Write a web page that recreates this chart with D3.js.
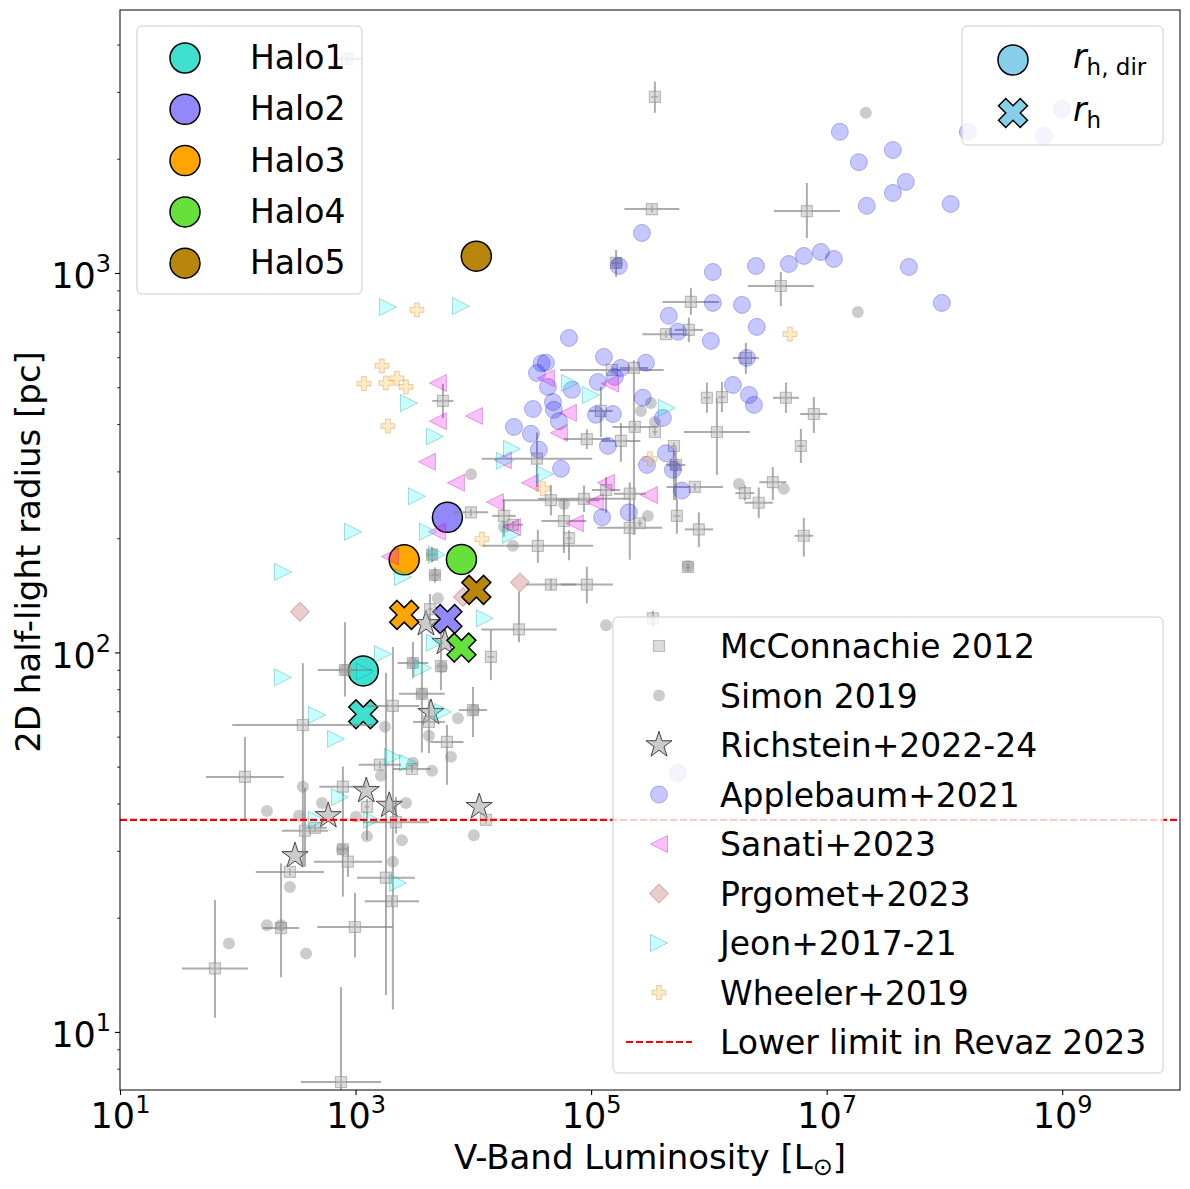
<!DOCTYPE html>
<html>
<head>
<meta charset="utf-8">
<script src="https://cdn.jsdelivr.net/npm/d3@7"></script>
<style>
  body { margin: 0; background: #fff; }
  svg text { font-family: "DejaVu Sans", sans-serif; fill: #000; }
</style>
</head>
<body>
<svg id="chart"></svg>
<script>
// DATA
// [L_V (Lsun), r_h (pc), L err (dex), r_h err low (dex), r_h err high (dex)]
const mcConnachie = [
    [3.48e5, 2912, 0.03, 0.042, 0.04], [3.28e5, 1474, 0.233, 0.01, 0.01], [6.79e6, 1456, 0.28, 0.071, 0.074],
    [1.63e5, 1063, 0.04, 0.037, 0.034], [4.08e6, 924, 0.28, 0.053, 0.037], [7.03e5, 839, 0.24, 0.034, 0.037],
    [6.76e5, 708, 0.12, 0.032, 0.032], [4.32e5, 690, 0.2, 0.01, 0.01], [1.50e5, 555, 0.44, 0.01, 0.01],
    [2.31e5, 562, 0.12, 0.44, 0.02], [2.06e6, 597, 0.11, 0.042, 0.04], [9.62e5, 469, 0.03, 0.04, 0.04],
    [1.29e6, 471, 0.03, 0.04, 0.04], [4.51e6, 469, 0.11, 0.04, 0.04], [7.78e6, 425, 0.115, 0.05, 0.045],
    [1.17e6, 381, 0.28, 0.113, 0.09], [6.04e6, 350, 0.03, 0.045, 0.045], [5520, 460, 0.09, 0.045, 0.045],
    [1.21e5, 433, 0.1, 0.069, 0.063], [2.35e5, 393, 0.19, 0.01, 0.01], [1.79e5, 361, 0.165, 0.055, 0.047],
    [9.2e4, 365, 0.195, 0.026, 0.026], [3.47e4, 324, 0.47, 0.074, 0.069], [3.48e5, 381, 0.02, 0.01, 0.01],
    [5.05e5, 350, 0.02, 0.142, 0.01], [5.25e5, 312, 0.08, 0.092, 0.047], [7.6e5, 273, 0.24, 0.01, 0.01],
    [2.02e6, 263, 0.08, 0.02, 0.02], [3.49e6, 281, 0.115, 0.047, 0.04], [2.65e6, 248, 0.12, 0.04, 0.04],
    [4.56e4, 252, 0.41, 0.04, 0.04], [8.7e4, 254, 0.39, 0.035, 0.035], [1.34e5, 268, 0.12, 0.06, 0.034],
    [2.13e5, 262, 0.135, 0.174, 0.03], [5.88e4, 222, 0.19, 0.084, 0.055], [6.49e4, 200, 0.02, 0.058, 0.021],
    [3.53e4, 191, 0.47, 0.045, 0.042], [9550, 234, 0.145, 0.01, 0.01], [1.82e4, 229, 0.1, 0.055, 0.042],
    [2.17e4, 217, 0.085, 0.01, 0.01], [2.13e5, 213, 0.275, 0.01, 0.01], [2.59e5, 219, 0.02, 0.01, 0.01],
    [8.22e5, 211, 0.12, 0.047, 0.045], [6.4e6, 203, 0.08, 0.055, 0.047], [5.35e5, 229, 0.03, 0.047, 0.045],
    [6.64e5, 168, 0.02, 0.01, 0.01], [4.56e4, 151, 0.21, 0.015, 0.015], [9.2e4, 151, 0.22, 0.05, 0.047],
    [2.44e4, 115, 0.32, 0.034, 0.1], [3.35e5, 123, 0.03, 0.02, 0.02], [1.41e4, 97.3, 0.03, 0.061, 0.071],
    [9930, 70.5, 0.12, 0.071, 0.061], [4285, 130, 0.02, 0.04, 0.04], [4460, 181, 0.04, 0.02, 0.02],
    [4720, 160, 0.03, 0.02, 0.02], [5310, 92, 0.03, 0.063, 0.087], [3070, 93.8, 0.13, 0.04, 0.055],
    [3660, 77.8, 0.195, 0.155, 0.163], [2075, 72.3, 0.225, 0.8, 0.155], [357, 64.4, 0.6, 0.374, 0.163],
    [115, 47, 0.33, 0.113, 0.105], [781, 44.3, 0.2, 0.29, 0.053], [372, 33.9, 0.195, 0.095, 0.113],
    [452, 34.5, 0.1, 0.01, 0.01], [781, 30.3, 0.04, 0.01, 0.01], [861, 28.1, 0.29, 0.04, 0.04],
    [277, 26.4, 0.29, 0.01, 0.01], [1812, 25.5, 0.245, 0.31, 0.54], [2037, 22.1, 0.23, 0.013, 0.013],
    [988, 18.9, 0.32, 0.08, 0.09], [233, 18.8, 0.155, 0.13, 0.17], [64, 14.7, 0.28, 0.13, 0.18],
    [752, 7.38, 0.34, 0.1, 0.25], [1611, 50.6, 0.18, 0.01, 0.01], [3013, 49.3, 0.16, 0.01, 0.01],
    [5970, 58.1, 0.14, 0.113, 0.045], [4200, 65.6, 0.135, 0.082, 0.058], [1.28e4, 36.2, 0.02, 0.01, 0.01],
    [2202, 35.7, 0.28, 0.03, 0.066], [1250, 39.2, 0.02, 0.087, 0.02], [813, 89.9, 0.23, 0.07, 0.126],
    [845, 3667, 0.12, 0.01, 0.01]
];

const simon = [
    [2.15e7, 2642], [1.84e7, 789], [3.22e5, 454], [2.65e5, 433], [3.48e5, 405], [1.80e6, 278], [4.33e6, 270],
    [3.03e5, 229], [6.64e5, 169], [1.34e5, 118], [1.66e5, 1063], [9550, 295], [5.88e4, 246], [2.17e4, 191],
    [1.82e4, 214], [5.14e5, 312], [1.01e4, 70.5], [5000, 139], [4460, 181], [4720, 160], [813, 89.9],
    [1778, 63.7], [3070, 93.8], [3660, 77.8], [5410, 91.6], [7400, 67.1], [4200, 60.3], [6460, 53.1],
    [4460, 48.8], [3070, 51.2], [1644, 47.3], [357, 44.3], [519, 40.1], [177, 38.2], [331, 37.1],
    [1007, 36.9], [2680, 40.1], [1250, 32.8], [2478, 32.0], [1.01e4, 33.0], [767, 30.3], [2075, 28.1],
    [277, 24.1], [177, 19.1], [233, 19.1], [84.1, 17.1], [380, 16.1]
];

const richstein = [
    [3963, 118.9], [5741, 106.1], [4365, 69.4], [1233, 43.2], [1932, 39.5], [586, 37.1], [11220, 39.2], [306, 29.1]
];

const applebaum = [
    [1.294e7, 2355], [1.876e7, 1959], [3.65e7, 2109], [4.70e7, 1738], [3.65e7, 1625], [2.19e7, 1503],
    [1.13e8, 1520], [2.70e5, 1275], [1.72e5, 1043], [1.08e6, 1006], [2.51e6, 1043], [4.78e6, 1056],
    [6.40e6, 1109], [8.93e6, 1136], [1.15e7, 1089], [4.99e7, 1037], [1.08e6, 834], [1.91e6, 824],
    [4.57e5, 771], [5.45e5, 700], [1.04e6, 662], [2.55e6, 721], [9.5e7, 834], [6.49e4, 674],
    [1.285e5, 601], [1.79e5, 562], [2.92e5, 580], [2.10e6, 597], [1.60e6, 507], [2.19e6, 477],
    [2.41e6, 449], [4.13e4, 580], [3.8e4, 578], [3.47e4, 545], [4.30e4, 501], [1.14e5, 516], [1.59e5, 532],
    [2.75e5, 469], [6.87e4, 492], [4.74e4, 457], [3.21e4, 438], [4.83e4, 436], [1.10e5, 423],
    [1.53e5, 425], [4.07e5, 415], [2.21e4, 393], [3.08e4, 377], [3.60e4, 342], [5.33e4, 407],
    [1.39e5, 350], [5.55e4, 305], [4.32e5, 335], [2.98e5, 312], [4.94e5, 303], [5.90e5, 267],
    [1.24e5, 227], [2.09e5, 234], [1.58e8, 2355], [6.98e8, 2296], [9.93e8, 2704], [5.45e5, 48.1]
];

const sanati = [
    [5000, 513], [5000, 407], [10120, 420], [4036, 318], [7113, 280], [15240, 249], [41300, 528],
    [63530, 428], [53300, 379], [17830, 321], [30200, 280], [144600, 511], [133600, 280], [107700, 249],
    [72800, 219], [309600, 260], [4909, 208], [21280, 214], [1959, 179]
];

const prgomet = [[337, 128], [24890, 153], [8170, 140]];

const jeon = [
    [1884, 813], [7850, 818], [2838, 454], [4721, 371], [21280, 344], [18530, 320], [3319, 258],
    [951, 208], [4121, 208], [242, 163], [2523, 158], [4909, 181], [12530, 123], [20840, 204],
    [1710, 99], [242, 86], [1202, 89], [470, 68.4], [683, 59.2], [3733, 91], [4721, 106], [2075, 53.1],
    [2786, 51.2], [738, 41.6], [470, 36.2], [1377, 36.2], [2291, 24.7], [5521, 69.7], [66070, 513],
    [99540, 477], [40550, 295], [439500, 441]
];

const wheeler = [
    [3319, 799], [1675, 569], [1178, 511], [1812, 513], [2244, 528], [2679, 501], [1884, 395],
    [11830, 199], [39000, 270], [315500, 324], [4875000, 690]
];

const haloNames = ['Halo1', 'Halo2', 'Halo3', 'Halo4', 'Halo5'];
const haloLum = [1162, 6026, 2588, 7925, 10600];
const haloRhDir = [89.4, 227, 175.4, 175.8, 1107];
const haloRh = [68.7, 122.5, 125.6, 103, 146.2];
const haloColors = ['#40e0d0', '#9388f9', '#ffa500', '#66e03a', '#b8860b'];

const revazLimit = 36.2;

const xTicks = [1e1, 1e3, 1e5, 1e7, 1e9];
const xTickExp = ['1', '3', '5', '7', '9'];
const yTicks = [1e1, 1e2, 1e3];
const yTickExp = ['1', '2', '3'];
const yMinorTicks = [8, 9, 20, 30, 40, 50, 60, 70, 80, 90, 200, 300, 400, 500, 600, 700, 800, 900, 2000, 3000, 4000];

const catalogLabels = ['McConnachie 2012', 'Simon 2019', 'Richstein+2022-24', 'Applebaum+2021',
    'Sanati+2023', 'Prgomet+2023', 'Jeon+2017-21', 'Wheeler+2019', 'Lower limit in Revaz 2023'];

// SCALES
const x = d3.scaleLog().domain([10, 1e10]).range([120, 1180]);
const y = d3.scaleLog().domain([7.03, 4932]).range([1090, 10]);

// SHAPES
const circlePath = r => d3.symbol().type(d3.symbolCircle).size(Math.PI * r * r)();
const squarePath = s => d3.symbol().type(d3.symbolSquare).size(s * s)();
const plusPath = w => d3.symbol().type(d3.symbolCross).size(5 * (w / 3) * (w / 3))();
const starPath = d3.symbol().type(d3.symbolStar).size(211)();
const triRight = s => `M${s / 2},0L${-s / 2},${s / 2}L${-s / 2},${-s / 2}Z`;
const triLeft = s => `M${-s / 2},0L${s / 2},${-s / 2}L${s / 2},${s / 2}Z`;

const styles = {
    mc: { d: squarePath(11), fill: '#bbbbbb', fo: 0.5, stroke: '#888888', so: 0.5, sw: 1.2 },
    simon: { d: circlePath(6), fill: '#808080', fo: 0.4, stroke: 'none', so: 0, sw: 0 },
    richstein: { d: starPath, fill: '#c8c8c8', fo: 0.95, stroke: '#333333', so: 0.9, sw: 1 },
    applebaum: { d: circlePath(8.5), fill: '#0000ff', fo: 0.22, stroke: '#2020c0', so: 0.3, sw: 1 },
    sanati: { d: triLeft(17), fill: '#ee00ee', fo: 0.25, stroke: '#a000a0', so: 0.3, sw: 1 },
    prgomet: { d: squarePath(13.4), rot: 45, fill: '#a52a2a', fo: 0.24, stroke: '#a52a2a', so: 0.3, sw: 1 },
    jeon: { d: triRight(17), fill: '#00ffff', fo: 0.22, stroke: '#008080', so: 0.3, sw: 1 },
    wheeler: { d: plusPath(14), fill: '#ffa500', fo: 0.22, stroke: '#c07000', so: 0.3, sw: 1 }
};

function scatter(layer, rows, st) {
    layer.append('g').selectAll('path')
        .data(rows)
        .join('path')
        .attr('d', st.d)
        .attr('transform', d => `translate(${x(d[0])},${y(d[1])})` + (st.rot ? ` rotate(${st.rot})` : ''))
        .attr('fill', st.fill).attr('fill-opacity', st.fo)
        .attr('stroke', st.stroke).attr('stroke-opacity', st.so).attr('stroke-width', st.sw);
}

function legendMarker(g, st, cx, cy) {
    g.append('path')
        .attr('d', st.d)
        .attr('transform', `translate(${cx},${cy})` + (st.rot ? ` rotate(${st.rot})` : ''))
        .attr('fill', st.fill).attr('fill-opacity', st.fo)
        .attr('stroke', st.stroke).attr('stroke-opacity', st.so).attr('stroke-width', st.sw);
}

function legendBox(x0, y0, w, h) {
    svg.append('rect')
        .attr('x', x0).attr('y', y0).attr('width', w).attr('height', h)
        .attr('rx', 5)
        .attr('fill', '#fff').attr('fill-opacity', 0.8)
        .attr('stroke', '#cccccc').attr('stroke-width', 1);
}

// RENDER
const svg = d3.select('#chart').attr('width', 1190).attr('height', 1189);
svg.append('rect').attr('width', 1190).attr('height', 1189).attr('fill', '#fff');

svg.append('clipPath').attr('id', 'plot-clip')
    .append('rect').attr('x', 120).attr('y', 10).attr('width', 1060).attr('height', 1080);

const plot = svg.append('g').attr('clip-path', 'url(#plot-clip)');

// catalogues drawn under the simulated haloes
scatter(plot, richstein, styles.richstein);
scatter(plot, prgomet, styles.prgomet);

// haloes
const xMarker = plusPath(30.7);
const halos = plot.append('g');
halos.selectAll('circle')
    .data(haloLum)
    .join('circle')
    .attr('cx', d => x(d))
    .attr('cy', (d, i) => y(haloRhDir[i]))
    .attr('r', 15)
    .attr('fill', (d, i) => haloColors[i])
    .attr('stroke', '#000').attr('stroke-width', 1.5);
halos.selectAll('path')
    .data(haloLum)
    .join('path')
    .attr('d', xMarker)
    .attr('transform', (d, i) => `translate(${x(d)},${y(haloRh[i])}) rotate(45)`)
    .attr('fill', (d, i) => haloColors[i])
    .attr('stroke', '#000').attr('stroke-width', 1.5);

// McConnachie error bars
const bars = plot.append('g')
    .attr('stroke', '#808080').attr('stroke-opacity', 0.65).attr('stroke-width', 2);
bars.selectAll('line.xerr')
    .data(mcConnachie)
    .join('line')
    .attr('class', 'xerr')
    .attr('x1', d => x(d[0] / Math.pow(10, d[2])))
    .attr('x2', d => x(d[0] * Math.pow(10, d[2])))
    .attr('y1', d => y(d[1]))
    .attr('y2', d => y(d[1]));
bars.selectAll('line.yerr')
    .data(mcConnachie)
    .join('line')
    .attr('class', 'yerr')
    .attr('x1', d => x(d[0]))
    .attr('x2', d => x(d[0]))
    .attr('y1', d => y(d[1] / Math.pow(10, d[3])))
    .attr('y2', d => y(d[1] * Math.pow(10, d[4])));

scatter(plot, mcConnachie, styles.mc);
scatter(plot, simon, styles.simon);
scatter(plot, applebaum, styles.applebaum);
scatter(plot, sanati, styles.sanati);
scatter(plot, jeon, styles.jeon);
scatter(plot, wheeler, styles.wheeler);

// lower limit line
plot.append('line')
    .attr('x1', 120).attr('x2', 1180)
    .attr('y1', y(revazLimit)).attr('y2', y(revazLimit))
    .attr('stroke', '#ff0000').attr('stroke-width', 2.2)
    .attr('stroke-dasharray', '7,3');

// frame
svg.append('rect')
    .attr('x', 120).attr('y', 10).attr('width', 1060).attr('height', 1080)
    .attr('fill', 'none').attr('stroke', '#000').attr('stroke-width', 1);

// AXES
const xAxis = svg.append('g')
    .attr('transform', 'translate(0,1090)')
    .call(d3.axisBottom(x).tickValues(xTicks).tickSize(5).tickFormat(''));
xAxis.select('.domain').remove();
xAxis.selectAll('.tick line').attr('stroke-width', 1.1);
xAxis.selectAll('.tick').each(function (d, i) {
    const t = d3.select(this).append('text')
        .attr('y', 38).attr('text-anchor', 'middle')
        .attr('font-size', 35).style('fill', '#000');
    t.append('tspan').text('10');
    t.append('tspan').attr('dy', -15).attr('font-size', 24).text(xTickExp[i]);
});

const yAxis = svg.append('g')
    .attr('transform', 'translate(120,0)')
    .call(d3.axisLeft(y).tickValues(yTicks).tickSize(5).tickFormat(''));
yAxis.select('.domain').remove();
yAxis.selectAll('.tick line').attr('stroke-width', 1.1);
yAxis.selectAll('.tick').each(function (d, i) {
    const t = d3.select(this).append('text')
        .attr('x', -9).attr('y', 15).attr('text-anchor', 'end')
        .attr('font-size', 35).style('fill', '#000');
    t.append('tspan').text('10');
    t.append('tspan').attr('dy', -16).attr('font-size', 24).text(yTickExp[i]);
});

const yMinor = svg.append('g')
    .attr('transform', 'translate(120,0)')
    .call(d3.axisLeft(y).tickValues(yMinorTicks).tickSize(2.8).tickFormat(''));
yMinor.select('.domain').remove();
yMinor.selectAll('.tick line').attr('stroke-width', 0.8);

// axis labels
const xLabel = svg.append('text')
    .attr('x', 650).attr('y', 1169)
    .attr('text-anchor', 'middle').attr('font-size', 34);
xLabel.append('tspan').text('V-Band Luminosity [L');
xLabel.append('tspan').attr('dy', 6).attr('font-size', 24).text('\u2299');
xLabel.append('tspan').attr('dy', -6).text(']');

svg.append('text')
    .attr('transform', 'translate(40,552) rotate(-90)')
    .attr('text-anchor', 'middle').attr('font-size', 34)
    .text('2D half-light radius [pc]');

// LEGENDS
// haloes
legendBox(137, 26, 225, 268);
const haloLegend = svg.append('g');
haloNames.forEach((name, i) => {
    const cy = 58 + i * 51.3;
    haloLegend.append('circle')
        .attr('cx', 185).attr('cy', cy).attr('r', 15)
        .attr('fill', haloColors[i]).attr('stroke', '#000').attr('stroke-width', 1.5);
    haloLegend.append('text')
        .attr('x', 250).attr('y', cy + 11).attr('font-size', 33).text(name);
});

// radius definitions
legendBox(962, 26, 201, 119);
const rLegend = svg.append('g');
rLegend.append('circle')
    .attr('cx', 1013).attr('cy', 60).attr('r', 15)
    .attr('fill', '#87ceeb').attr('stroke', '#000').attr('stroke-width', 1.5);
rLegend.append('path')
    .attr('d', xMarker)
    .attr('transform', 'translate(1013,113) rotate(45)')
    .attr('fill', '#87ceeb').attr('stroke', '#000').attr('stroke-width', 1.5);
const r1 = rLegend.append('text').attr('x', 1073).attr('y', 68).attr('font-size', 33);
r1.append('tspan').attr('font-style', 'italic').text('r');
r1.append('tspan').attr('dy', 7).attr('font-size', 23).text('h, dir');
const r2 = rLegend.append('text').attr('x', 1073).attr('y', 121).attr('font-size', 33);
r2.append('tspan').attr('font-style', 'italic').text('r');
r2.append('tspan').attr('dy', 7).attr('font-size', 23).text('h');

// catalogues
legendBox(613, 617, 550, 456);
const catLegend = svg.append('g');
const legendStyles = [styles.mc, styles.simon, styles.richstein, styles.applebaum,
    styles.sanati, styles.prgomet, styles.jeon, styles.wheeler];
catalogLabels.forEach((label, i) => {
    const cy = 646 + i * 49.5;
    if (i < legendStyles.length) {
        legendMarker(catLegend, legendStyles[i], 659, cy);
    } else {
        catLegend.append('line')
            .attr('x1', 626).attr('x2', 692).attr('y1', cy).attr('y2', cy)
            .attr('stroke', '#ff0000').attr('stroke-width', 2.2)
            .attr('stroke-dasharray', '7,3');
    }
    catLegend.append('text')
        .attr('x', 720).attr('y', cy + 12).attr('font-size', 33).text(label);
});
</script>
</body>
</html>
